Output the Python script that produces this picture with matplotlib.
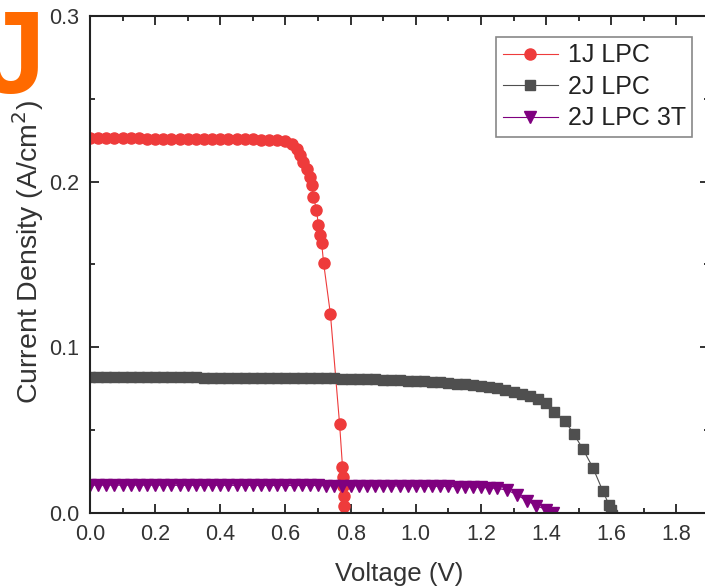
import matplotlib
matplotlib.use('Agg')
import matplotlib.pyplot as plt
from matplotlib.ticker import MultipleLocator

plt.rcParams['font.family'] = ['Liberation Sans', 'DejaVu Sans']

# 1J LPC (red circles)
v_1j = [0.000, 0.025, 0.050, 0.075, 0.100, 0.125, 0.150, 0.175, 0.200, 0.225,
        0.250, 0.275, 0.300, 0.325, 0.350, 0.375, 0.400, 0.425, 0.450, 0.475,
        0.500, 0.525, 0.550, 0.575, 0.600, 0.620, 0.635, 0.645, 0.655, 0.665,
        0.674, 0.680, 0.686, 0.695, 0.701, 0.707, 0.711, 0.717, 0.738, 0.766,
        0.775, 0.777, 0.778, 0.779, 0.780, 0.781]
j_1j = [0.2262, 0.2262, 0.2262, 0.2261, 0.2261, 0.2261, 0.2261, 0.2260, 0.2260, 0.2260,
        0.2260, 0.2259, 0.2259, 0.2259, 0.2258, 0.2258, 0.2258, 0.2257, 0.2257, 0.2256,
        0.2255, 0.2254, 0.2252, 0.2249, 0.2243, 0.2228, 0.2195, 0.2160, 0.2120, 0.2075,
        0.2030, 0.1980, 0.1910, 0.1830, 0.1740, 0.1680, 0.1630, 0.1510, 0.1200, 0.0540,
        0.0280, 0.0220, 0.0160, 0.0100, 0.0040, -0.0020]

# 2J LPC (gray squares)
v_2j = [0.000, 0.025, 0.050, 0.075, 0.100, 0.125, 0.150, 0.175, 0.200, 0.225,
        0.250, 0.275, 0.300, 0.325, 0.350, 0.375, 0.400, 0.425, 0.450, 0.475,
        0.500, 0.525, 0.550, 0.575, 0.600, 0.625, 0.650, 0.675, 0.700, 0.725,
        0.750, 0.775, 0.800, 0.825, 0.850, 0.875, 0.900, 0.925, 0.950, 0.975,
        1.000, 1.025, 1.050, 1.075, 1.100, 1.125, 1.150, 1.175, 1.200, 1.225,
        1.250, 1.275, 1.300, 1.325, 1.350, 1.375, 1.400, 1.424, 1.458, 1.485,
        1.513, 1.544, 1.574, 1.593, 1.598, 1.602]
j_2j = [0.0820, 0.0820, 0.0820, 0.0820, 0.0819, 0.0819, 0.0819, 0.0819, 0.0819, 0.0818,
        0.0818, 0.0818, 0.0818, 0.0818, 0.0817, 0.0817, 0.0817, 0.0817, 0.0817, 0.0816,
        0.0816, 0.0816, 0.0815, 0.0815, 0.0815, 0.0814, 0.0814, 0.0813, 0.0813, 0.0812,
        0.0812, 0.0811, 0.0810, 0.0809, 0.0808, 0.0806, 0.0805, 0.0803, 0.0801, 0.0799,
        0.0797, 0.0795, 0.0792, 0.0789, 0.0785, 0.0781, 0.0777, 0.0772, 0.0767, 0.0760,
        0.0752, 0.0743, 0.0732, 0.0720, 0.0706, 0.0688, 0.0665, 0.0610, 0.0555, 0.0477,
        0.0386, 0.0272, 0.0133, 0.0050, 0.0020, -0.0010]

# 2J LPC 3T (purple triangles)
v_3t = [0.000, 0.025, 0.050, 0.075, 0.100, 0.125, 0.150, 0.175, 0.200, 0.225,
        0.250, 0.275, 0.300, 0.325, 0.350, 0.375, 0.400, 0.425, 0.450, 0.475,
        0.500, 0.525, 0.550, 0.575, 0.600, 0.625, 0.650, 0.675, 0.700, 0.725,
        0.750, 0.775, 0.800, 0.825, 0.850, 0.875, 0.900, 0.925, 0.950, 0.975,
        1.000, 1.025, 1.050, 1.075, 1.100, 1.125, 1.150, 1.175, 1.200, 1.225,
        1.250, 1.280, 1.310, 1.340, 1.370, 1.400, 1.420]
j_3t = [0.0168, 0.0168, 0.0168, 0.0168, 0.0168, 0.0168, 0.0168, 0.0168, 0.0168, 0.0168,
        0.0167, 0.0167, 0.0167, 0.0167, 0.0167, 0.0167, 0.0167, 0.0167, 0.0167, 0.0167,
        0.0166, 0.0166, 0.0166, 0.0166, 0.0166, 0.0166, 0.0166, 0.0166, 0.0166, 0.0165,
        0.0165, 0.0165, 0.0165, 0.0165, 0.0164, 0.0164, 0.0164, 0.0163, 0.0163, 0.0163,
        0.0162, 0.0162, 0.0161, 0.0161, 0.0160, 0.0159, 0.0158, 0.0157, 0.0155, 0.0152,
        0.0148, 0.0139, 0.0110, 0.0075, 0.0045, 0.0020, 0.0000]

fig = plt.figure(figsize=(7.05, 5.87), dpi=100)
ax = fig.add_axes([90 / 705, 74 / 587, 619 / 705, 497 / 587])

ax.plot(v_1j, j_1j, '-o', color='#EE3B3B', lw=0.8, ms=8, label='1J LPC')
ax.plot(v_2j, j_2j, '-s', color='#4F4F4F', lw=0.8, ms=7.2, label='2J LPC')
ax.plot(v_3t, j_3t, '-v', color='#7F007F', lw=0.8, ms=8.2, label='2J LPC 3T')

ax.set_xlim(0, 1.9)
ax.set_ylim(0, 0.3)
ax.xaxis.set_major_locator(MultipleLocator(0.2))
ax.xaxis.set_minor_locator(MultipleLocator(0.1))
ax.yaxis.set_major_locator(MultipleLocator(0.1))
ax.yaxis.set_minor_locator(MultipleLocator(0.05))
ax.xaxis.set_major_formatter(plt.FormatStrFormatter('%.1f'))
ax.yaxis.set_major_formatter(plt.FormatStrFormatter('%.1f'))
ax.tick_params(which='both', direction='in', top=True, right=True, width=1.3, colors='#222222')
ax.tick_params(which='major', length=6.5, labelsize=15.5, labelcolor='#333333')
ax.tick_params(which='minor', length=3.5)
ax.tick_params(axis='x', which='major', pad=8)
ax.tick_params(axis='y', which='major', pad=8)
for sp in ax.spines.values():
    sp.set_linewidth(1.5)
    sp.set_color('#222222')

ax.set_xlabel('Voltage (V)', fontsize=18.6, color='#333333', labelpad=12)
ax.set_ylabel('Current Density (A/cm$^2$)', fontsize=20.5, color='#333333')
ax.yaxis.set_label_coords(-0.071, 0.525)

leg = ax.legend(loc='upper right', bbox_to_anchor=(692 / 705, 1 - 37 / 587),
                bbox_transform=fig.transFigure, fontsize=18, frameon=True,
                fancybox=False, edgecolor='#888888', framealpha=1,
                handlelength=2.2, handletextpad=0.4, borderpad=0.25,
                labelspacing=0.3, borderaxespad=0)
leg.get_frame().set_linewidth(1.2)
for t in leg.get_texts():
    t.set_color('#222222')

fig.text(45 / 705, 1 - 8 / 587, 'J', ha='right', va='top', fontsize=84,
         fontweight='bold', color='#FF6A00')

fig.savefig('out.png', dpi=100)
